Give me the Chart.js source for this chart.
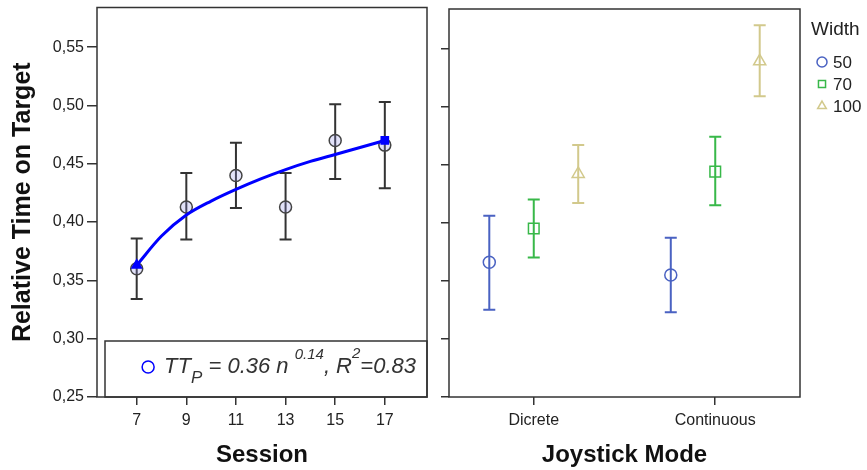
<!DOCTYPE html>
<html>
<head>
<meta charset="utf-8">
<script src="https://cdn.jsdelivr.net/npm/chart.js@4.4.1/dist/chart.umd.min.js"></script>
<style>
  html, body { margin: 0; padding: 0; background: #fff; }
  #wrap { position: relative; width: 867px; height: 470px; }
  #leftChart { position: absolute; left: 0; top: 0; }
  #rightChart { position: absolute; left: 440px; top: 0; }
</style>
</head>
<body>
<div id="wrap">
  <canvas id="leftChart" width="440" height="470"></canvas>
  <canvas id="rightChart" width="427" height="470"></canvas>
</div>
<script>
// ---- data ----
const yTicks = [0.25, 0.30, 0.35, 0.40, 0.45, 0.50, 0.55];

const sessions = [7, 9, 11, 13, 15, 17];
const sessionMean = [0.360, 0.413, 0.440, 0.413, 0.470, 0.466];
const sessionLow = [0.334, 0.385, 0.412, 0.385, 0.437, 0.429];
const sessionHigh = [0.386, 0.442, 0.468, 0.442, 0.501, 0.503];

// fitted power curve
const fitSession = [7, 8, 9, 10, 11, 12, 13, 14, 15, 16, 17];
const fitValue = [0.363, 0.388, 0.406, 0.418, 0.428, 0.437, 0.445, 0.452, 0.458, 0.464, 0.470];

const modes = ['Dicrete', 'Continuous'];
const widths = ['50', '70', '100'];
const mean50 = [0.366, 0.355];
const low50 = [0.325, 0.323];
const high50 = [0.406, 0.387];
const mean70 = [0.395, 0.444];
const low70 = [0.370, 0.415];
const high70 = [0.420, 0.474];
const mean100 = [0.442, 0.539];
const low100 = [0.417, 0.509];
const high100 = [0.467, 0.570];

// ---- look ----
const FONT = "'Liberation Sans', Arial, sans-serif";
const INK = '#222';
const FRAME = '#333';
const widthColors = ['#4a62c2', '#38b849', '#d2c98c'];
const widthShapes = ['circle', 'rect', 'triangle'];
const widthRadius = [6, 7.5, 7];
const groupOffset = [-0.245, 0, 0.245];

Chart.defaults.font.family = FONT;
Chart.defaults.color = INK;
Chart.defaults.animation = false;

const yMin = 0.25, yMax = 0.584;

function fmtComma(v) {
  return v.toFixed(2).replace('.', ',');
}

// error bars drawn under the markers
const errorBars = {
  id: 'errorBars',
  beforeDatasetsDraw(chart) {
    const ctx = chart.ctx, xs = chart.scales.x, ys = chart.scales.y;
    chart.data.datasets.forEach(function(ds) {
      if (!ds.low) return;
      ctx.save();
      ctx.strokeStyle = ds.barColor;
      ctx.lineWidth = 2;
      ds.data.forEach(function(p, j) {
        const px = xs.getPixelForValue(p.x);
        const top = ys.getPixelForValue(ds.high[j]);
        const bot = ys.getPixelForValue(ds.low[j]);
        ctx.beginPath();
        ctx.moveTo(px, top); ctx.lineTo(px, bot);
        ctx.moveTo(px - 6, top); ctx.lineTo(px + 6, top);
        ctx.moveTo(px - 6, bot); ctx.lineTo(px + 6, bot);
        ctx.stroke();
      });
      ctx.restore();
    });
  }
};

// box around plot area
const frame = {
  id: 'frame',
  afterDraw(chart) {
    const a = chart.chartArea, ctx = chart.ctx;
    ctx.save();
    ctx.strokeStyle = FRAME;
    ctx.lineWidth = 1.5;
    ctx.strokeRect(a.left, a.top, a.right - a.left, a.bottom - a.top);
    ctx.restore();
  }
};

// fit equation box in the left panel
const fitLabel = {
  id: 'fitLabel',
  afterDatasetsDraw(chart) {
    const a = chart.chartArea, ctx = chart.ctx;
    const bx = a.left + 8, by = a.bottom - 56;
    ctx.save();
    ctx.fillStyle = '#fff';
    ctx.fillRect(bx, by, a.right - bx, a.bottom - by);
    ctx.strokeStyle = FRAME;
    ctx.lineWidth = 1.5;
    ctx.strokeRect(bx, by, a.right - bx, a.bottom - by);

    const base = by + 32;
    const parts = [
      { t: 'TT', s: 22, dy: 0 },
      { t: 'P', s: 17, dy: 10 },
      { t: ' = 0.36 n ', s: 22, dy: 0 },
      { t: '0.14', s: 15, dy: -14 },
      { t: ', R', s: 22, dy: 0 },
      { t: '2', s: 15, dy: -15 },
      { t: '=0.83', s: 22, dy: 0 }
    ];
    let total = 0;
    parts.forEach(function(p) {
      ctx.font = 'italic ' + p.s + 'px ' + FONT;
      p.w = ctx.measureText(p.t).width;
      total += p.w;
    });
    let x = a.right - 11 - total;
    ctx.fillStyle = '#333';
    ctx.textBaseline = 'alphabetic';
    parts.forEach(function(p) {
      ctx.font = 'italic ' + p.s + 'px ' + FONT;
      ctx.fillText(p.t, x, base + p.dy);
      x += p.w;
    });
    ctx.beginPath();
    ctx.strokeStyle = '#0000ff';
    ctx.lineWidth = 1.5;
    ctx.arc(a.right - 11 - total - 16, base - 6, 6, 0, Math.PI * 2);
    ctx.stroke();
    ctx.restore();
  }
};

// "Width" legend to the right of the right panel
const widthLegend = {
  id: 'widthLegend',
  afterDraw(chart) {
    const ctx = chart.ctx;
    const x0 = chart.chartArea.right + 11;
    ctx.save();
    ctx.textBaseline = 'middle';
    ctx.fillStyle = INK;
    ctx.font = '19px ' + FONT;
    ctx.fillText('Width', x0, 30);
    ctx.font = '17px ' + FONT;
    chart.data.datasets.forEach(function(ds, i) {
      const y = 62 + i * 22;
      ctx.strokeStyle = ds.borderColor;
      ctx.fillStyle = '#fff';
      ctx.lineWidth = 1.5;
      Chart.helpers.drawPoint(ctx, { pointStyle: ds.pointStyle, radius: 5, borderWidth: 1.5 }, x0 + 11, y);
      ctx.fillStyle = INK;
      ctx.fillText(ds.label, x0 + 22, y + 1);
    });
    ctx.restore();
  }
};

function yScale(showLabels) {
  return {
    min: yMin,
    max: yMax,
    afterBuildTicks: function(s) { s.ticks = yTicks.map(function(v) { return { value: v }; }); },
    afterFit: function(s) {
      s.width = showLabels ? 97 : 8;
      s.paddingTop = 0;
      s.paddingBottom = 0;
    },
    border: { display: false },
    grid: { drawOnChartArea: false, drawTicks: true, tickLength: showLabels ? 10 : 8, color: FRAME, lineWidth: 1.5 },
    ticks: { display: showLabels, font: { size: 16 }, color: INK, padding: 3, callback: fmtComma },
    title: {
      display: showLabels,
      text: 'Relative Time on Target',
      font: { size: 25, weight: 'bold' },
      color: '#111',
      padding: { top: 8, bottom: 0 }
    }
  };
}

// ---- left panel: Session ----
new Chart(document.getElementById('leftChart'), {
  type: 'scatter',
  data: {
    datasets: [
      {
        type: 'line',
        label: 'fit',
        data: fitSession.map(function(s, i) { return { x: s, y: fitValue[i] }; }),
        borderColor: '#0000ff',
        backgroundColor: '#0000ff',
        borderWidth: 3,
        cubicInterpolationMode: 'monotone',
        pointRadius: fitSession.map(function(s, i) { return (i === 0 || i === fitSession.length - 1) ? 4 : 0; }),
        pointStyle: fitSession.map(function(s, i) { return i === 0 ? 'triangle' : 'rect'; }),
        order: 1
      },
      {
        label: 'Session',
        data: sessions.map(function(s, i) { return { x: s, y: sessionMean[i] }; }),
        low: sessionLow,
        high: sessionHigh,
        barColor: '#333',
        pointStyle: 'circle',
        pointRadius: 6,
        borderWidth: 1.5,
        borderColor: '#444',
        backgroundColor: 'rgba(140,140,230,0.25)',
        order: 2
      }
    ]
  },
  options: {
    responsive: false,
    layout: { padding: { top: 5, right: 13, left: 0, bottom: 0 } },
    plugins: { legend: { display: false }, tooltip: { enabled: false } },
    scales: {
      x: {
        type: 'linear',
        min: 5.4,
        max: 18.7,
        afterBuildTicks: function(s) { s.ticks = sessions.map(function(v) { return { value: v }; }); },
        afterFit: function(s) { s.height = 73; },
        border: { display: false },
        grid: { drawOnChartArea: false, tickLength: 8, color: FRAME, lineWidth: 1.5 },
        ticks: { font: { size: 16 }, color: INK, padding: 6 },
        title: { display: true, text: 'Session', font: { size: 24, weight: 'bold' }, color: '#111', padding: { top: 0, bottom: 0 } }
      },
      y: yScale(true)
    }
  },
  plugins: [errorBars, fitLabel, frame]
});

// ---- right panel: Joystick Mode by Width ----
const widthMeans = [mean50, mean70, mean100];
const widthLows = [low50, low70, low100];
const widthHighs = [high50, high70, high100];

new Chart(document.getElementById('rightChart'), {
  type: 'scatter',
  data: {
    datasets: widths.map(function(w, k) {
      return {
        label: w,
        data: modes.map(function(m, i) { return { x: i + 1 + groupOffset[k], y: widthMeans[k][i] }; }),
        low: widthLows[k],
        high: widthHighs[k],
        barColor: widthColors[k],
        pointStyle: widthShapes[k],
        pointRadius: widthRadius[k],
        borderWidth: 1.5,
        borderColor: widthColors[k],
        backgroundColor: 'rgba(255,255,255,0)'
      };
    })
  },
  options: {
    responsive: false,
    layout: { padding: { top: 5, right: 67, left: 0, bottom: 0 } },
    plugins: { legend: { display: false }, tooltip: { enabled: false } },
    scales: {
      x: {
        type: 'linear',
        min: 0.533,
        max: 2.467,
        afterBuildTicks: function(s) { s.ticks = modes.map(function(m, i) { return { value: i + 1 }; }); },
        afterFit: function(s) { s.height = 73; },
        border: { display: false },
        grid: { drawOnChartArea: false, tickLength: 8, color: FRAME, lineWidth: 1.5 },
        ticks: { font: { size: 16 }, color: INK, padding: 6, callback: function(v) { return modes[Math.round(v) - 1]; } },
        title: { display: true, text: 'Joystick Mode', font: { size: 24, weight: 'bold' }, color: '#111', padding: { top: 0, bottom: 0 } }
      },
      y: yScale(false)
    }
  },
  plugins: [errorBars, frame, widthLegend]
});
</script>
</body>
</html>
